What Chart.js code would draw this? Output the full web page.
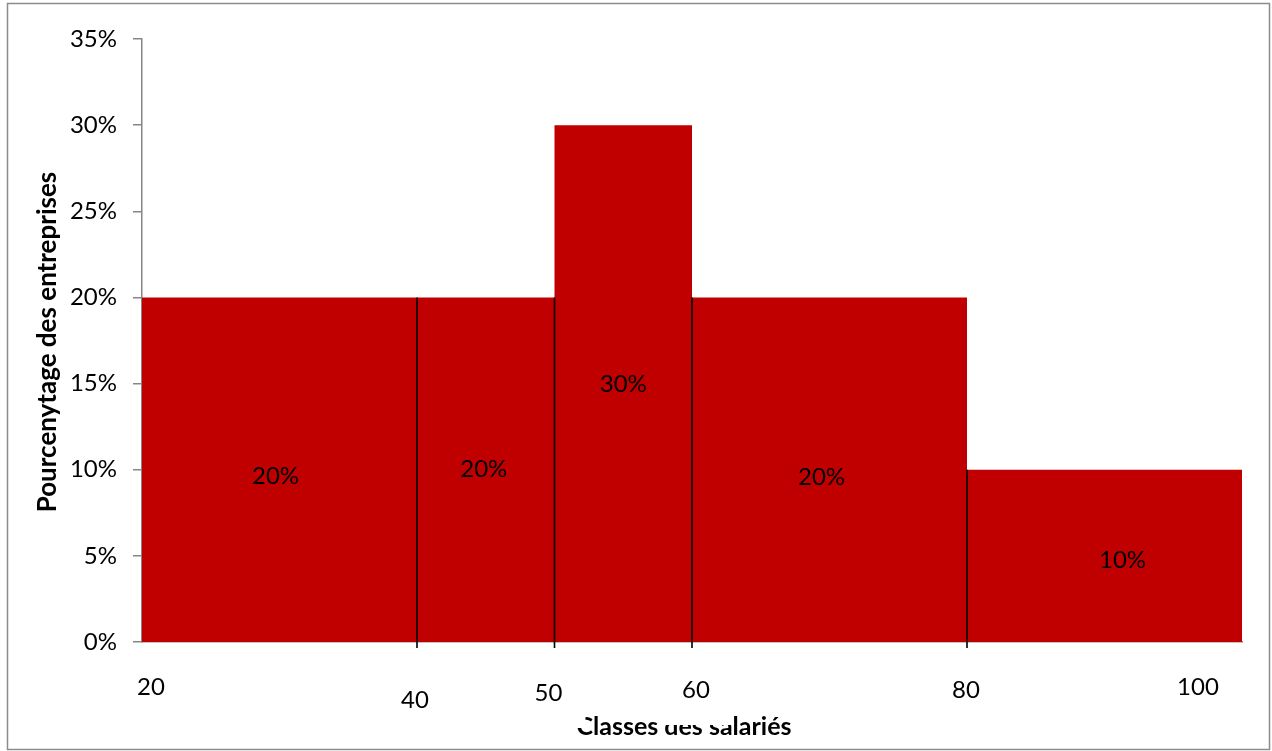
<!DOCTYPE html>
<html>
<head>
<meta charset="utf-8">
<script src="https://cdn.jsdelivr.net/npm/chart.js@4.4.0/dist/chart.umd.min.js"></script>
<style>
  body { margin: 0; background: #fff; }
  #wrap { width: 1272px; height: 751px; }
</style>
</head>
<body>
<div id="wrap"><canvas id="histo" width="1272" height="751"></canvas></div>
<script>
// class limits (employees) and share of companies per class
let classEdges = [20, 40, 50, 60, 80, 100];
let classShares = [20, 20, 30, 20, 10];
let yTicks = [0, 5, 10, 15, 20, 25, 30, 35];
let xTitle = "Classes des salariés";
let yTitle = "Pourcenytage des entreprises";

let barRed = "#c00000";
let axisGray = "#868686";

// outline of the histogram, drawn stepped and filled down to 0
let stepPoints = classEdges.map(function (edge, i) {
  return { x: edge, y: classShares[Math.min(i, classShares.length - 1)] };
});

// black separators between neighbouring classes
let separators = [];
for (let i = 1; i < classEdges.length - 1; i++) {
  separators.push({
    type: "line",
    data: [
      { x: classEdges[i], y: Math.min(classShares[i - 1], classShares[i]) },
      { x: classEdges[i], y: -0.35 }
    ],
    borderColor: "#000",
    borderWidth: 1.6,
    pointRadius: 0,
    fill: false,
    clip: false,
    order: 1
  });
}

// frame, titles and the labels written on the bars and under the axis
let labelsPlugin = {
  id: "labelsPlugin",
  beforeDraw: function (chart) {
    let ctx = chart.ctx;
    ctx.save();
    ctx.strokeStyle = "#8c8c8c";
    ctx.lineWidth = 1.5;
    ctx.strokeRect(7.5, 3.5, 1262, 746);
    ctx.restore();
  },
  afterDraw: function (chart, args, opts) {
    let ctx = chart.ctx;
    let xs = chart.scales.x;
    let ys = chart.scales.y;
    ctx.save();
    ctx.fillStyle = "#000";
    ctx.textAlign = "center";

    ctx.textBaseline = "middle";
    ctx.font = "24px Lato";
    classShares.forEach(function (v, i) {
      let mid = (classEdges[i] + classEdges[i + 1]) / 2;
      let off = opts.barLabelShift[i];
      ctx.fillText(v + "%", xs.getPixelForValue(mid) + off[0], ys.getPixelForValue(v / 2) + off[1]);
    });

    ctx.textBaseline = "alphabetic";
    ctx.font = "bold 26px Lato";
    ctx.save();
    ctx.translate(56, 342);
    ctx.rotate(-Math.PI / 2);
    ctx.fillText(yTitle, 0, 0);
    ctx.restore();

    ctx.font = "bold 25px Lato";
    ctx.fillText(xTitle, 684, 735);

    // class limits sit in opaque boxes that overlap the axis title
    ctx.textBaseline = "middle";
    ctx.font = "24px Lato";
    classEdges.forEach(function (edge, i) {
      let off = opts.edgeLabelShift[i];
      let cx = xs.getPixelForValue(edge) + off[0];
      let cy = ys.getPixelForValue(0) + off[1];
      ctx.fillStyle = "#fff";
      ctx.fillRect(cx - 37, cy - 20, 74, 55);
      ctx.fillStyle = "#000";
      ctx.fillText(String(edge), cx, cy);
    });
    ctx.restore();
  }
};

let chart = new Chart("histo", {
  type: "line",
  data: {
    datasets: [{
      data: stepPoints,
      stepped: "before",
      fill: "origin",
      backgroundColor: barRed,
      borderColor: "rgba(0,0,0,0)",
      borderWidth: 0,
      pointRadius: 0,
      order: 2
    }].concat(separators)
  },
  options: {
    responsive: false,
    animation: false,
    layout: { padding: { top: 39, right: 30, left: 0, bottom: 0 } },
    plugins: {
      legend: { display: false },
      tooltip: { enabled: false },
      labelsPlugin: {
        barLabelShift: [[-4, 7], [-2, 0], [0, 1], [-8, 8], [18, 4]],
        edgeLabelShift: [[9, 45], [-2, 58], [-6, 51], [4, 48], [-1, 48], [-44, 45]]
      }
    },
    scales: {
      x: {
        type: "linear",
        min: classEdges[0],
        max: classEdges[classEdges.length - 1],
        ticks: { display: false },
        grid: { display: false },
        border: { display: true, color: axisGray, width: 1.5 },
        afterFit: function (scale) { scale.height = 109; }
      },
      y: {
        min: yTicks[0],
        max: yTicks[yTicks.length - 1],
        afterBuildTicks: function (scale) {
          scale.ticks = yTicks.map(function (v) { return { value: v }; });
        },
        ticks: {
          padding: 16,
          color: "#000",
          font: { family: "Lato", size: 24 },
          callback: function (v) { return v + "%"; }
        },
        grid: { drawOnChartArea: false, drawTicks: true, tickLength: 9, color: axisGray, lineWidth: 1.5 },
        border: { display: true, color: axisGray, width: 1.5 },
        afterFit: function (scale) { scale.width = 142; }
      }
    }
  },
  plugins: [labelsPlugin]
});
</script>
</body>
</html>
